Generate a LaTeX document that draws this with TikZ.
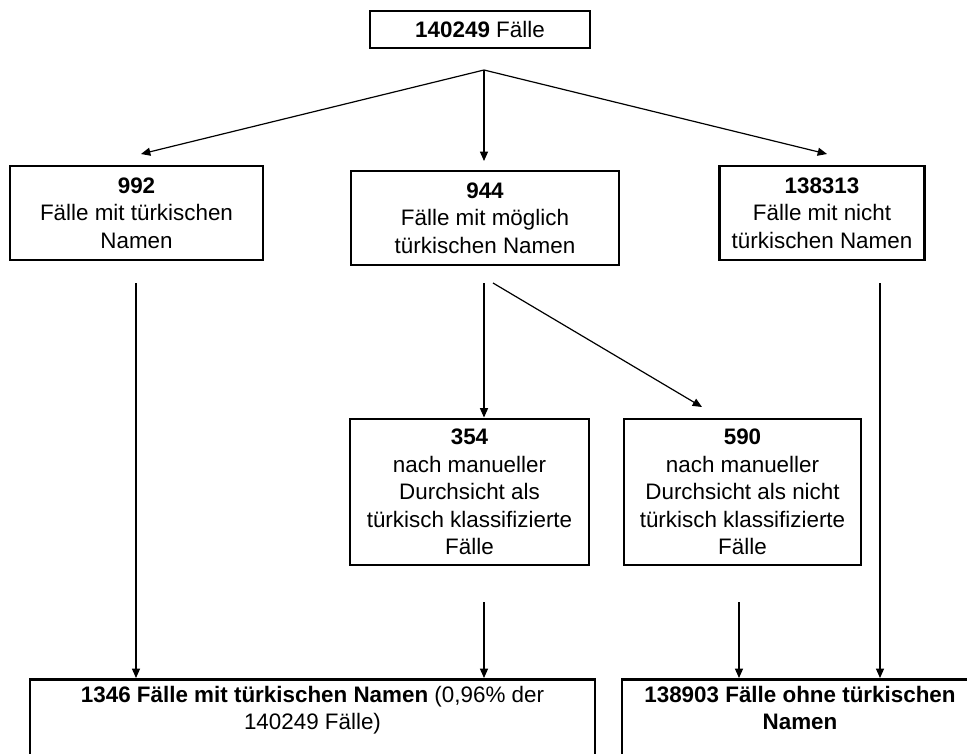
\documentclass[tikz,border=0pt]{standalone}
\usepackage{fontspec}
\setmainfont{Liberation Sans}
\usetikzlibrary{arrows.meta}
\begin{document}
\begin{tikzpicture}[x=0.75pt,y=-0.75pt,
  txt/.style={font=\fontsize{16.8}{20.6}\selectfont, align=center},
  box/.style={txt, draw, line width=2.2pt, inner sep=0pt},
  conn/.style={line width=0.9pt, -{Triangle[length=7pt,width=6pt]}},
  link/.style={line width=0.9pt}]
\useasboundingbox (0,0) rectangle (967,753);
\clip (0,0) rectangle (967,753);

% boxes
\node[box, minimum width=220*0.75pt, minimum height=37*0.75pt] (all) at (480,29.5) {\textbf{140249} Fälle};
\node[box, minimum width=253*0.75pt, minimum height=94*0.75pt] (tk) at (136.5,213) {\textbf{992}\\Fälle mit türkischen\\Namen};
\node[box, minimum width=268*0.75pt, minimum height=94*0.75pt] (mtk) at (485,218) {\textbf{944}\\Fälle mit möglich\\türkischen Namen};
\node[box, minimum width=205*0.75pt, minimum height=94*0.75pt] (ntk) at (822,213) {\textbf{138313}\\Fälle mit nicht\\türkischen Namen};
\node[box, minimum width=239*0.75pt, minimum height=146*0.75pt] (man) at (469.5,492) {\textbf{354}\\nach manueller\\Durchsicht als\\türkisch klassifizierte\\Fälle};
\node[box, minimum width=237*0.75pt, minimum height=146*0.75pt] (mann) at (742.5,492) {\textbf{590}\\nach manueller\\Durchsicht als nicht\\türkisch klassifizierte\\Fälle};
\node[box, minimum width=565*0.75pt, minimum height=150*0.75pt, anchor=north] (sumt) at (312.5,678) {};
\node[box, minimum width=358*0.75pt, minimum height=150*0.75pt, anchor=north] (sumn) at (801,678) {};
\node[txt, anchor=north, inner sep=0pt] (sumttxt) at (312.5,686) {\textbf{1346 Fälle mit türkischen Namen} (0,96\% der\\140249 Fälle)};
\node[txt, anchor=north, inner sep=0pt] (sumntxt) at (800,686) {\textbf{138903 Fälle ohne türkischen}\\\textbf{Namen}};

% free ends of the connectors
\coordinate (apex) at (484,70);
\coordinate (tkin) at (141,154);
\coordinate (mtkin) at (484,161);
\coordinate (ntkin) at (827,154);
\coordinate (tkout) at (136,283);
\coordinate (mtkout) at (484,283);
\coordinate (mtkdiag) at (493,283);
\coordinate (mannin) at (702,407);
\coordinate (ntkout) at (880,283);
\coordinate (manout) at (484,602);
\coordinate (mannout) at (739,602);

% connectors
\draw[conn] (apex) -- (tkin);
\draw[conn] (apex) -- (mtkin);
\draw[conn] (apex) -- (ntkin);
\draw[conn] (tkout) -- (tkout |- sumt.north);
\draw[conn] (mtkout) -- (mtkout |- man.north);
\draw[conn] (mtkdiag) -- (mannin);
\draw[conn] (ntkout) -- (ntkout |- sumn.north);
\draw[conn] (manout) -- (manout |- sumt.north);
\draw[conn] (mannout) -- (mannout |- sumn.north);
\end{tikzpicture}
\end{document}
